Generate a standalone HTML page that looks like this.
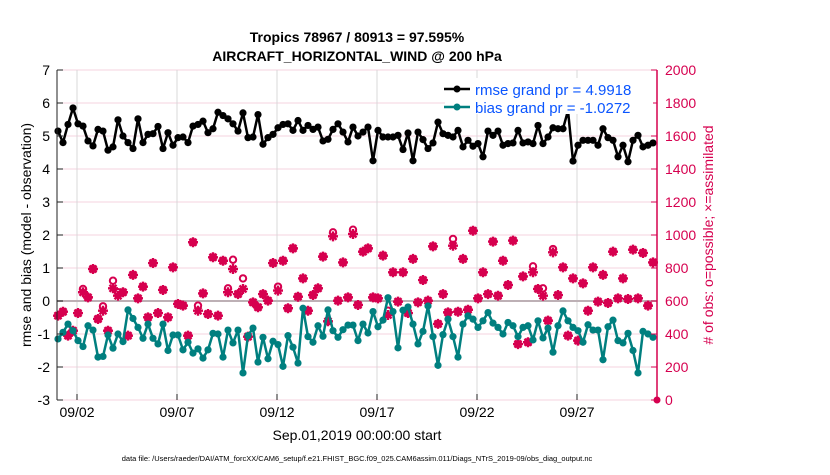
<!DOCTYPE html>
<html><head><meta charset="utf-8"><style>
body{margin:0;background:#fff;font-family:"Liberation Sans",sans-serif}
svg text{font-family:"Liberation Sans",sans-serif}
</style></head><body>
<svg id="c" width="830" height="470" xmlns="http://www.w3.org/2000/svg">
<text x="357" y="42" text-anchor="middle" font-size="14" font-weight="bold">Tropics 78967 / 80913 = 97.595%</text>
<text x="357" y="61" text-anchor="middle" font-size="14" font-weight="bold">AIRCRAFT_HORIZONTAL_WIND @ 200 hPa</text>
<g id="grid"></g><g id="marks"></g><g id="axes"></g>
<text transform="translate(31,235) rotate(-90)" text-anchor="middle" font-size="14">rmse and bias (model - observation)</text>
<text transform="translate(713,235) rotate(-90)" text-anchor="middle" font-size="14" fill="#d6004f"># of obs: o=possible; ×=assimilated</text>
<text x="357" y="440" text-anchor="middle" font-size="14">Sep.01,2019 00:00:00 start</text>
<text x="357" y="461" text-anchor="middle" font-size="7.5">data file: /Users/raeder/DAI/ATM_forcXX/CAM6_setup/f.e21.FHIST_BGC.f09_025.CAM6assim.011/Diags_NTrS_2019-09/obs_diag_output.nc</text>
<g>
<rect x="445" y="78" width="208" height="36" fill="#fff"/>
<g><line x1="444" y1="89" x2="470" y2="89" stroke="#000" stroke-width="2.5"/><circle cx="457" cy="89" r="3.5" fill="#000"/><text x="475" y="95" font-size="15" fill="#0a55ff">rmse grand pr = 4.9918</text></g>
<g><line x1="444" y1="107" x2="470" y2="107" stroke="#007f7f" stroke-width="2.5"/><circle cx="457" cy="107" r="3.5" fill="#007f7f"/><text x="475" y="113" font-size="15" fill="#0a55ff">bias grand pr = -1.0272</text></g>
</g>
</svg>
<script>
const rmse=[5.15,4.8,5.35,5.85,5.37,5.3,4.85,4.7,5.2,5.15,4.57,4.67,5.49,5.0,4.8,4.62,5.52,4.8,5.05,5.07,5.29,4.62,5.1,4.72,4.95,4.97,4.8,5.3,5.35,5.45,5.1,5.22,5.72,5.62,5.52,5.37,5.15,5.7,4.95,4.97,5.65,4.75,4.95,5.05,5.25,5.35,5.37,5.17,5.47,5.17,5.32,5.2,5.27,4.85,4.9,5.2,5.37,5.12,4.82,5.27,5.0,
5.12,5.27,4.25,5.17,4.97,4.97,4.97,5.02,4.59,5.09,4.25,5.12,4.89,4.62,4.79,5.42,5.07,5.02,4.97,5.17,4.67,4.87,4.69,4.77,4.37,5.15,5.02,5.15,4.72,4.77,4.79,5.17,4.79,4.82,4.77,5.32,4.77,4.97,5.25,5.22,5.22,5.77,4.24,4.72,4.87,4.87,4.87,4.72,5.22,4.95,4.87,4.37,4.72,4.22,4.87,5.02,4.67,4.72,4.79];
const bias=[-1.15,-0.95,-0.7,-0.9,-1.2,-1.38,-0.75,-0.88,-1.7,-1.68,-1.03,-1.43,-1.0,-1.23,-0.27,-0.53,-0.8,-1.13,-0.7,-1.13,-1.3,-0.7,-1.5,-1.03,-1.03,-1.48,-1.25,-1.58,-1.45,-1.73,-1.48,-0.98,-1.0,-1.7,-0.88,-1.27,-0.88,-2.18,-1.05,-0.82,-1.85,-1.1,-1.75,-1.22,-1.32,-1.98,-1.05,-1.4,-1.88,-0.22,-1.08,-1.25,-0.75,-1.07,-0.27,-0.9,-1.1,-0.87,-0.73,-0.73,-1.2,
-0.7,-0.97,-0.32,-0.78,-0.58,0.1,-0.32,-1.42,-0.28,-0.18,-0.7,-1.3,-0.92,-0.15,-1.08,-1.95,-1.02,-0.55,-1.08,-1.7,-0.7,-0.45,-0.55,-0.8,-0.6,-0.35,-0.67,-0.8,-1.0,-0.65,-0.75,-1.08,-0.8,-0.75,-1.18,-0.6,-1.12,-0.82,-1.55,-0.75,-0.3,-0.6,-0.8,-0.9,-1.25,-0.72,-0.88,-0.88,-1.78,-0.78,-0.58,-1.2,-1.27,-0.98,-1.5,-2.18,-0.92,-1.0,-1.1];
const assim=[511,535,390,420,527,653,622,794,491,541,420,677,632,653,390,758,616,687,501,830,527,667,501,804,582,572,390,956,541,646,521,865,511,844,653,794,642,673,384,592,562,642,602,830,663,844,556,919,626,737,541,636,677,869,477,992,602,834,622,1006,576,
899,919,622,616,875,515,774,596,774,527,855,592,727,602,931,461,642,531,935,535,855,547,1026,616,774,642,960,632,844,697,966,339,749,350,774,673,632,481,895,636,804,390,737,360,707,541,804,596,758,588,899,616,737,612,911,616,891,572,834];
const possible=[511,535,390,420,527,673,622,794,491,568,420,723,653,653,390,758,616,687,501,830,527,667,501,804,582,572,390,956,572,646,521,865,511,844,677,850,642,737,384,592,562,642,602,830,687,844,556,919,626,737,541,636,677,869,477,1016,602,834,622,1032,576,
899,919,622,616,875,541,774,596,774,527,855,592,727,602,931,461,642,531,976,535,855,547,1026,616,774,642,960,632,844,697,966,339,749,350,810,673,677,481,915,636,804,390,737,360,707,541,804,596,758,588,899,616,737,612,911,616,891,572,834];
const xTickDays=[1,6,11,16,21,26];
const xTickLabels=["09/02","09/07","09/12","09/17","09/22","09/27"];
const leftTicks=[-3,-2,-1,0,1,2,3,4,5,6,7];
const rightTicks=[0,200,400,600,800,1000,1200,1400,1600,1800,2000];

const L=57,R=657,T=70,B=400;
const xs=d=>L+(d/30)*(R-L);
const yl=v=>B-(v+3)/10*(B-T);
const yr=v=>B-v/2000*(B-T);
const dayOf=i=>i*0.25+0.05;
const NS="http://www.w3.org/2000/svg";
function mk(tag,attrs,parent){const e=document.createElementNS(NS,tag);for(const k in attrs)e.setAttribute(k,attrs[k]);parent.appendChild(e);return e;}
const grid=document.getElementById('grid'),marks=document.getElementById('marks'),axes=document.getElementById('axes');
rightTicks.forEach(v=>{const l=mk('line',{x1:L,x2:R,y1:yr(v),y2:yr(v),stroke:'#f6d3df','stroke-width':1},grid);

});
xTickDays.forEach(d=>{const l=mk('line',{x1:xs(d),x2:xs(d),y1:T,y2:B,stroke:'#d8d8d8','stroke-width':1},grid);

});
const zl=mk('line',{x1:L,x2:R,y1:yl(0),y2:yl(0),stroke:'#bdb0b5','stroke-width':2},grid);


function star(x,y,g){mk('path',{d:`M${x-5} ${y}H${x+5}M${x} ${y-5}V${y+5}M${x-3.5} ${y-3.5}L${x+3.5} ${y+3.5}M${x-3.5} ${y+3.5}L${x+3.5} ${y-3.5}`,stroke:'#d6004f','stroke-width':2.4},g);}
possible.forEach((v,i)=>{const c=mk('circle',{cx:xs(dayOf(i)),cy:yr(v),r:3.2,fill:'none',stroke:'#d6004f','stroke-width':2},marks);

});
assim.forEach((v,i)=>{const g=mk('g',{},marks);


star(xs(dayOf(i)),yr(v),g);mk('circle',{cx:xs(dayOf(i)),cy:yr(v),r:3,fill:'#d6004f'},g);});
const endm=mk('circle',{cx:R,cy:yr(0),r:3.5,fill:'#d6004f'},marks);


function series(arr,col,name){
const p=mk('polyline',{points:arr.map((v,i)=>xs(dayOf(i))+','+yl(v)).join(' '),fill:'none',stroke:col,'stroke-width':2.5,'stroke-linejoin':'round'},marks);


arr.forEach((v,i)=>{const c=mk('circle',{cx:xs(dayOf(i)),cy:yl(v),r:3.6,fill:col},marks);

});}
series(bias,'#007f7f','bias');
series(rmse,'#000','rmse');
const la=mk('line',{x1:L,x2:L,y1:T,y2:B,stroke:'#222','stroke-width':1},axes);


const ra=mk('line',{x1:R,x2:R,y1:T,y2:B,stroke:'#d6004f','stroke-width':1.5},axes);


leftTicks.forEach(v=>{mk('line',{x1:L,x2:L+6,y1:yl(v),y2:yl(v),stroke:'#222'},axes);
const t=mk('text',{x:L-7,y:yl(v)+5,'text-anchor':'end','font-size':14},axes);t.textContent=v;

});
rightTicks.forEach(v=>{mk('line',{x1:R-6,x2:R,y1:yr(v),y2:yr(v),stroke:'#d6004f'},axes);
const t=mk('text',{x:R+8,y:yr(v)+5,'font-size':14,fill:'#d6004f'},axes);t.textContent=v;

});
xTickDays.forEach((d,i)=>{mk('line',{x1:xs(d),x2:xs(d),y1:B,y2:B-6,stroke:'#222'},axes);
const t=mk('text',{x:xs(d),y:B+17,'text-anchor':'middle','font-size':14},axes);t.textContent=xTickLabels[i];

});
</script>
</body></html>
